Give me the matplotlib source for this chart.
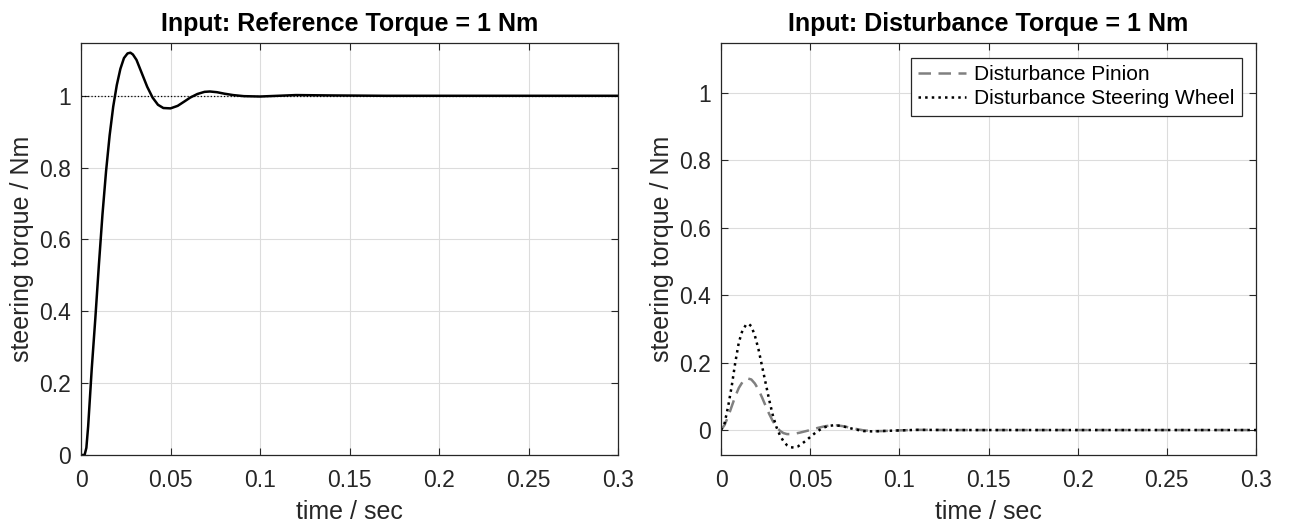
import numpy as np
import matplotlib.pyplot as plt

plt.rcParams['font.family'] = ['Liberation Sans', 'DejaVu Sans']

# step response to reference torque
tRef = [0, 0.002, 0.003, 0.004, 0.005, 0.006, 0.008, 0.010, 0.012, 0.014, 0.016, 0.018,
        0.020, 0.022, 0.024, 0.026, 0.0276, 0.029, 0.031, 0.033, 0.035, 0.037, 0.040,
        0.043, 0.046, 0.050, 0.054, 0.058, 0.061, 0.065, 0.069, 0.072, 0.076, 0.080,
        0.085, 0.091, 0.100, 0.110, 0.120, 0.140, 0.170, 0.200, 0.300]
yRef = [0, 0, 0.02, 0.08, 0.16, 0.24, 0.38, 0.53, 0.67, 0.79, 0.89, 0.97,
        1.03, 1.075, 1.105, 1.118, 1.12, 1.115, 1.10, 1.075, 1.05, 1.025, 0.995,
        0.975, 0.966, 0.965, 0.972, 0.985, 0.995, 1.005, 1.011, 1.012, 1.010, 1.006,
        1.002, 0.999, 0.998, 1.000, 1.002, 1.001, 1.0, 1.0, 1.0]

# response to disturbance torque
tWheel = [0, 0.002, 0.004, 0.006, 0.008, 0.010, 0.012, 0.014, 0.0155, 0.017, 0.019,
          0.021, 0.023, 0.025, 0.027, 0.029, 0.031, 0.033, 0.035, 0.037, 0.039, 0.041,
          0.043, 0.045, 0.048, 0.051, 0.054, 0.057, 0.060, 0.063, 0.066, 0.070, 0.075,
          0.080, 0.085, 0.090, 0.100, 0.110, 0.130, 0.300]
yWheel = [0, 0.02, 0.07, 0.13, 0.20, 0.26, 0.295, 0.312, 0.315, 0.308, 0.28,
          0.24, 0.19, 0.14, 0.09, 0.045, 0.01, -0.015, -0.033, -0.045, -0.051, -0.052,
          -0.049, -0.042, -0.03, -0.016, -0.004, 0.006, 0.012, 0.014, 0.013, 0.009, 0.002,
          -0.003, -0.004, -0.003, -0.001, 0.0005, 0, 0]

tPinion = [0, 0.002, 0.004, 0.006, 0.008, 0.010, 0.012, 0.014, 0.015, 0.017, 0.019,
           0.021, 0.023, 0.025, 0.027, 0.029, 0.031, 0.033, 0.035, 0.037, 0.039, 0.041,
           0.044, 0.047, 0.050, 0.054, 0.058, 0.062, 0.065, 0.069, 0.074, 0.080, 0.085,
           0.090, 0.100, 0.110, 0.130, 0.300]
yPinion = [0, 0.015, 0.04, 0.07, 0.10, 0.125, 0.142, 0.152, 0.153, 0.150, 0.138,
           0.12, 0.097, 0.072, 0.048, 0.027, 0.01, -0.002, -0.009, -0.012, -0.012, -0.011,
           -0.008, -0.004, 0.0, 0.006, 0.011, 0.014, 0.014, 0.011, 0.005, -0.001, -0.003,
           -0.003, -0.001, 0.0005, 0, 0]

xticks = [0, 0.05, 0.1, 0.15, 0.2, 0.25, 0.3]
xticklabels = ['0', '0.05', '0.1', '0.15', '0.2', '0.25', '0.3']
yticks = [0, 0.2, 0.4, 0.6, 0.8, 1]
yticklabels = ['0', '0.2', '0.4', '0.6', '0.8', '1']

W, H = 1290, 527
fig = plt.figure(figsize=(W / 100, H / 100), dpi=100)

axL = fig.add_axes([81 / W, (H - 455) / H, 537 / W, 412 / H])
axR = fig.add_axes([721 / W, (H - 455) / H, 535 / W, 412 / H])

dark = '#262626'

def styleAxis(ax, title):
    ax.set_xlim(0, 0.3)
    ax.set_xticks(xticks)
    ax.set_xticklabels(xticklabels)
    ax.set_yticks(yticks)
    ax.set_yticklabels(yticklabels)
    ax.grid(True, color='#dcdcdc', linewidth=0.8)
    ax.set_axisbelow(True)
    ax.tick_params(direction='in', top=True, right=True, length=5, width=0.8,
                   colors=dark, labelsize=16.5)
    ax.tick_params(axis='x', pad=10)
    ax.tick_params(axis='y', pad=7)
    for s in ax.spines.values():
        s.set_color(dark)
        s.set_linewidth(0.9)
    ax.set_xlabel('time / sec', fontsize=18, color=dark, labelpad=6)
    ax.set_ylabel('steering torque / Nm', fontsize=18, color=dark, labelpad=4)
    ax.set_title(title, fontsize=18, fontweight='bold', color='black', pad=9)

# left plot
axL.axhline(1, color='black', linestyle=':', linewidth=0.9)
axL.plot(tRef, yRef, color='black', linewidth=1.8)
axL.set_ylim(0, 1.147)
styleAxis(axL, 'Input: Reference Torque = 1 Nm')

# right plot
axR.plot(tPinion, yPinion, color='#808080', linestyle='--', dashes=(5, 3), linewidth=1.8,
         label='Disturbance Pinion')
axR.plot(tWheel, yWheel, color='black', linestyle=':', linewidth=1.8,
         label='Disturbance Steering Wheel')
axR.set_ylim(-0.074, 1.148)
styleAxis(axR, 'Input: Disturbance Torque = 1 Nm')
leg = axR.legend(loc='upper right', fontsize=15, fancybox=False, framealpha=1,
                 edgecolor=dark, handlelength=2.3, handletextpad=0.4, borderpad=0.35,
                 labelspacing=0.25, borderaxespad=0, bbox_to_anchor=(0.974, 0.964))
leg.get_frame().set_linewidth(0.9)

fig.savefig('out.png', dpi=100)
